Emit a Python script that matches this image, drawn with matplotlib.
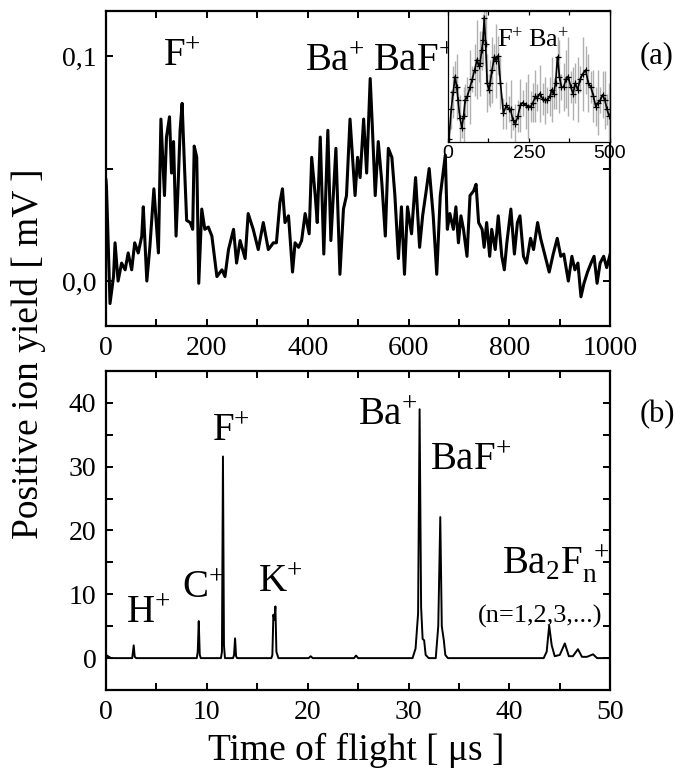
import matplotlib
matplotlib.use("Agg")
import matplotlib.pyplot as plt
from matplotlib.ticker import MultipleLocator

plt.rcParams['font.family'] = ['Liberation Serif', 'DejaVu Serif']
plt.rcParams['mathtext.fontset'] = 'custom'
plt.rcParams['mathtext.rm'] = 'Liberation Serif'
plt.rcParams['mathtext.it'] = 'Liberation Serif'

# panel (a): positive ion yield, long time window
t_a = [0, 1, 8, 15, 18, 24, 31, 38, 44, 51, 57, 64, 71, 74, 81, 87, 95, 104, 109,
       116, 120, 126, 130, 134, 139, 143, 147, 151, 155, 160, 167, 172, 175, 180,
       184, 190, 196, 203, 210, 220, 230, 236, 243, 253, 259, 266, 276, 282, 292,
       302, 312, 322, 332, 338, 345, 350, 355, 362, 370, 375, 382, 388, 395, 403,
       408, 415, 419, 425, 432, 440, 446, 456, 464, 471, 477, 484, 489, 494, 499,
       504, 511, 517, 524, 528, 534, 540, 547, 554, 560, 567, 573, 580, 586, 592,
       598, 606, 614, 622, 628, 635, 641, 649, 656, 663, 673, 677, 682, 689, 694,
       699, 704, 709, 716, 722, 729, 734, 739, 746, 750, 755, 761, 765, 772, 778,
       785, 790, 795, 803, 810, 816, 821, 828, 834, 842, 848, 856, 862, 871, 879,
       887, 895, 902, 908, 917, 924, 930, 936, 942, 948, 955, 962, 968, 974, 980,
       987, 993, 1000]
y_a = [0.045, 0.042, -0.010, 0.002, 0.017, 0.000, 0.008, 0.005, 0.0125, 0.005,
       0.017, 0.0125, 0.020, 0.033, 0.000, 0.015, 0.041, 0.0125, 0.072, 0.038,
       0.064, 0.073, 0.048, 0.062, 0.020, 0.042, 0.067, 0.079, 0.055, 0.027,
       0.026, 0.023, 0.060, 0.055, -0.001, 0.032, 0.023, 0.024, 0.020, 0.002,
       0.005, 0.002, 0.014, 0.023, 0.008, 0.018, 0.010, 0.030, 0.023, 0.014,
       0.026, 0.014, 0.017, 0.017, 0.035, 0.041, 0.026, 0.029, 0.004, 0.017,
       0.015, 0.018, 0.030, 0.021, 0.055, 0.038, 0.026, 0.064, 0.012, 0.067,
       0.018, 0.059, 0.003, 0.032, 0.038, 0.072, 0.055, 0.038, 0.055, 0.046,
       0.072, 0.048, 0.090, 0.070, 0.038, 0.062, 0.044, 0.020, 0.059, 0.055,
       0.038, 0.010, 0.033, 0.003, 0.033, 0.021, 0.046, 0.015, 0.029, 0.040,
       0.050, 0.029, 0.003, 0.038, 0.056, 0.023, 0.030, 0.023, 0.033, 0.017,
       0.029, 0.023, 0.011, 0.038, 0.040, 0.043, 0.026, 0.023, 0.015, 0.026,
       0.011, 0.023, 0.014, 0.029, 0.011, 0.005, 0.017, 0.032, 0.012, 0.026,
       0.029, 0.011, 0.008, 0.019, 0.014, 0.026, 0.019, 0.011, 0.004, 0.012,
       0.019, 0.011, 0.012, 0.000, 0.011, 0.005, 0.008, -0.007, -0.001, 0.004,
       0.008, 0.011, -0.001, 0.008, 0.011, 0.006, 0.012]

# inset of panel (a)
t_in = [3, 10, 16, 22, 27, 31, 37, 43, 48, 53, 60, 68, 75, 82, 90, 95, 99, 104,
        108, 112, 116, 121, 126, 130, 136, 143, 149, 155, 162, 171, 180, 188, 193,
        200, 208, 216, 223, 230, 240, 248, 255, 262, 270, 276, 284, 292, 300, 307,
        315, 320, 326, 332, 338, 344, 350, 357, 364, 371, 379, 386, 393, 400, 408,
        416, 425, 433, 441, 449, 456, 463, 470, 477, 484, 491, 497]
y_in = [0.02, 0.25, 0.38, 0.50, 0.42, 0.32, 0.18, 0.11, 0.20, 0.32, 0.35, 0.42,
        0.48, 0.55, 0.63, 0.58, 0.60, 0.70, 0.78, 0.95, 0.75, 0.45, 0.40, 0.45,
        0.55, 0.65, 0.62, 0.66, 0.45, 0.22, 0.28, 0.25, 0.25, 0.17, 0.14, 0.20,
        0.28, 0.30, 0.28, 0.27, 0.27, 0.30, 0.35, 0.34, 0.37, 0.33, 0.32, 0.32,
        0.35, 0.40, 0.37, 0.45, 0.65, 0.50, 0.42, 0.42, 0.48, 0.50, 0.42, 0.37,
        0.45, 0.40, 0.48, 0.52, 0.55, 0.45, 0.42, 0.35, 0.27, 0.30, 0.32, 0.36,
        0.32, 0.25, 0.20]
e_in = [0.10, 0.15, 0.20, 0.12, 0.25, 0.10, 0.18, 0.08, 0.22, 0.12, 0.15, 0.28,
        0.10, 0.20, 0.30, 0.12, 0.25, 0.15, 0.20, 0.10, 0.30, 0.22, 0.12, 0.18,
        0.25, 0.10, 0.28, 0.15, 0.20, 0.12, 0.18, 0.10, 0.22, 0.08, 0.15, 0.12,
        0.20, 0.10, 0.18, 0.25, 0.12, 0.15, 0.20, 0.10, 0.22, 0.12, 0.18, 0.10,
        0.15, 0.25, 0.12, 0.20, 0.15, 0.28, 0.10, 0.18, 0.22, 0.30, 0.12, 0.20,
        0.15, 0.25, 0.10, 0.28, 0.18, 0.22, 0.12, 0.20, 0.15, 0.25, 0.10, 0.18,
        0.22, 0.12, 0.25]

# panel (b): time-of-flight spectrum
t_b = [0, 0.2, 0.5, 0.8, 2.6, 2.75, 2.85, 3.0, 9.0, 9.1, 9.2, 9.3, 9.4, 11.4, 11.5,
       11.6, 11.7, 11.8, 12.6, 12.7, 12.8, 12.9, 13.0, 16.4, 16.5, 16.6, 16.7,
       16.8, 16.9, 17.1, 20.1, 20.3, 20.5, 24.6, 24.8, 25.0, 30.4, 30.7, 30.95,
       31.1, 31.25, 31.4, 31.55, 31.7, 32.0, 32.7, 32.95, 33.15, 33.3, 33.5,
       33.65, 33.9, 43.4, 43.7, 43.95, 44.2, 44.5, 45.0, 45.5, 45.9, 46.3, 46.8,
       47.2, 47.7, 48.3, 48.7, 50.0]
y_b = [0.5, 0.3, 0.0, 0.0, 0.0, 2.0, 0.2, 0.0, 0.0, 1.0, 5.8, 0.5, 0.0, 0.0, 1.0,
       31.6, 2.0, 0.0, 0.0, 0.5, 3.1, 0.3, 0.0, 0.0, 0.5, 6.8, 6.0, 8.1, 1.0, 0.0,
       0.0, 0.3, 0.0, 0.0, 0.4, 0.0, 0.0, 1.5, 7.0, 39.0, 8.0, 3.0, 2.8, 0.5, 0.0,
       0.0, 5.0, 22.1, 5.0, 2.8, 0.5, 0.0, 0.0, 1.0, 5.1, 2.0, 0.3, 0.5, 2.3, 0.3,
       0.3, 1.4, 0.2, 0.2, 0.6, 0.0, 0.0]


def style_axes(ax):
    for s in ax.spines.values():
        s.set_linewidth(1.6)
    ax.tick_params(which='both', direction='in', top=True, right=True,
                   labelsize=20, width=1.4, pad=7)
    ax.tick_params(which='major', length=5)
    ax.tick_params(which='minor', length=5)


fig = plt.figure(figsize=(6.75, 7.69), dpi=100)
ax1 = fig.add_axes([0.157, 0.576, 0.747, 0.4096])
ax2 = fig.add_axes([0.157, 0.1027, 0.747, 0.4149])

# panel (a)
ax1.plot(t_a, y_a, color='black', lw=2.2)
ax1.set_xlim(0, 1000)
ax1.set_ylim(-0.02, 0.12)
ax1.xaxis.set_major_locator(MultipleLocator(200))
ax1.xaxis.set_minor_locator(MultipleLocator(100))
ax1.set_yticks([0.0, 0.1])
ax1.set_yticklabels(['0,0', '0,1'])
ax1.yaxis.set_minor_locator(MultipleLocator(0.05))
style_axes(ax1)

lab = 28
ax1.text(113, 0.0955, 'F$^{+}$', fontsize=lab, ha='left', va='baseline')
ax1.text(395, 0.0933, 'Ba$^{+}$', fontsize=lab, ha='left', va='baseline')
ax1.text(530, 0.0933, 'BaF$^{+}$', fontsize=lab, ha='left', va='baseline')

# inset
axi = fig.add_axes([0.6637, 0.8153, 0.2400, 0.1703])
axi.errorbar(t_in, y_in, yerr=e_in, fmt='none', ecolor='#b0b0b0', elinewidth=1.0)
axi.plot(t_in, y_in, color='black', lw=1.2, marker='+', ms=4, mew=0.9)
axi.set_xlim(0, 500)
axi.set_ylim(0, 1)
axi.set_xticks([0, 250, 500])
axi.xaxis.set_minor_locator(MultipleLocator(125))
axi.set_yticks([])
for s in axi.spines.values():
    s.set_linewidth(0.9)
axi.tick_params(which='both', direction='in', top=True, length=3, width=0.9,
                labelsize=14, pad=2)
for t in axi.get_xticklabels():
    t.set_family('Liberation Sans')
axi.text(150, 0.72, 'F$^{+}$', fontsize=19, ha='left', va='baseline')
axi.text(248, 0.72, 'Ba$^{+}$', fontsize=19, ha='left', va='baseline')

# panel (b)
ax2.plot(t_b, y_b, color='black', lw=1.4)
ax2.set_xlim(0, 50)
ax2.set_ylim(-5, 45)
ax2.xaxis.set_major_locator(MultipleLocator(10))
ax2.xaxis.set_minor_locator(MultipleLocator(5))
ax2.set_yticks([0, 10, 20, 30, 40])
ax2.yaxis.set_minor_locator(MultipleLocator(5))
style_axes(ax2)

ax2.text(2.0, 5.5, 'H$^{+}$', fontsize=lab, ha='left', va='baseline')
ax2.text(7.5, 9.4, 'C$^{+}$', fontsize=lab, ha='left', va='baseline')
ax2.text(10.5, 34.0, 'F$^{+}$', fontsize=lab, ha='left', va='baseline')
ax2.text(15.1, 10.4, 'K$^{+}$', fontsize=lab, ha='left', va='baseline')
ax2.text(25.0, 36.5, 'Ba$^{+}$', fontsize=lab, ha='left', va='baseline')
ax2.text(32.1, 29.5, 'BaF$^{+}$', fontsize=lab, ha='left', va='baseline')
ax2.text(39.25, 13.2, r'Ba$_{2}$F$_{\mathrm{n}}^{\ +}$', fontsize=lab,
         ha='left', va='baseline')
ax2.text(36.9, 5.5, '(n=1,2,3,...)', fontsize=19, ha='left', va='baseline')

fig.text(640 / 675, 1 - 63 / 769, '(a)', fontsize=22, ha='left', va='baseline')
fig.text(640 / 675, 1 - 422 / 769, '(b)', fontsize=22, ha='left', va='baseline')
fig.text(29 / 675, 1 - 354 / 769, 'Positive ion yield [ mV ]', fontsize=27,
         rotation=90, ha='center', va='center')
fig.text(356 / 675, 1 - 760 / 769, 'Time of flight [ μs ]', fontsize=27,
         ha='center', va='baseline')

fig.savefig('out.png', dpi=100)
